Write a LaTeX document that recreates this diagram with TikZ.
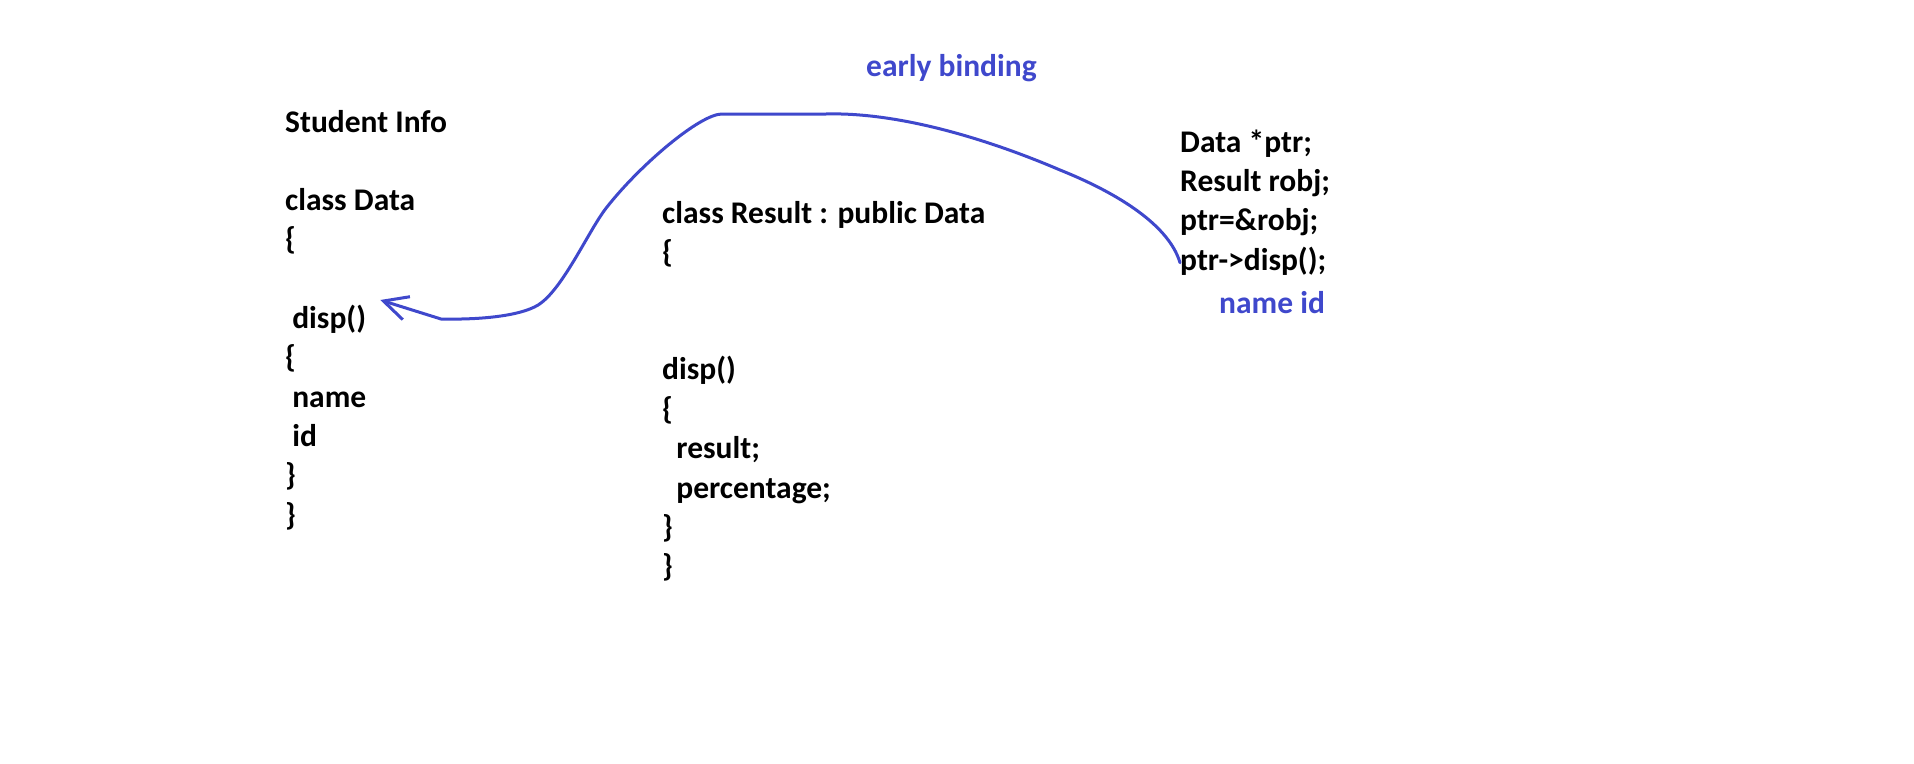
\documentclass[tikz,border=0pt]{standalone}
\usepackage{fontspec}
\setmainfont{Carlito}
\usetikzlibrary{arrows.meta,positioning}
\definecolor{ink}{RGB}{63,72,204}

\begin{document}
\begin{tikzpicture}[x=1pt, y=-1pt, node distance=10pt and 10pt,
   every node/.style={inner sep=0pt, text height=22pt, text depth=7pt, font=\bfseries\fontsize{31.5}{39}\selectfont},
   >={Straight Barb[length=24pt, width=24pt]}]
   \useasboundingbox[fill=white] (0,0) rectangle (1914,763);

   % class Data
   \node[anchor=base west] (l0) at (285,132) {Student Info};
   \node[] (l1) [below=of l0.south west, anchor=north west, yshift=-39pt] {class Data};
   \node[] (l2) [below=of l1.south west, anchor=north west] {\{};
   \node[] (l3) [below=of l2.south west, anchor=north west, yshift=-39pt] {\ disp()};
   \node[] (l4) [below=of l3.south west, anchor=north west] {\{};
   \node[] (l5) [below=of l4.south west, anchor=north west] {\ name};
   \node[] (l6) [below=of l5.south west, anchor=north west] {\ id};
   \node[] (l7) [below=of l6.south west, anchor=north west] {\}};
   \node[] (l8) [below=of l7.south west, anchor=north west] {\}};

   % class Result
   \node[anchor=base west] (m0) at (662,223) {class Result : public Data};
   \node[] (m1) [below=of m0.south west, anchor=north west] {\{};
   \node[] (m2) [below=of m1.south west, anchor=north west, yshift=-78pt] {disp()};
   \node[] (m3) [below=of m2.south west, anchor=north west] {\{};
   \node[] (m4) [below=of m3.south west, anchor=north west] {\ \ result;};
   \node[] (m5) [below=of m4.south west, anchor=north west] {\ \ percentage;};
   \node[] (m6) [below=of m5.south west, anchor=north west] {\}};
   \node[] (m7) [below=of m6.south west, anchor=north west] {\}};

   % main
   \node[anchor=base west] (r0) at (1180,152) {Data *ptr;};
   \node[] (r1) [below=of r0.south west, anchor=north west] {Result robj;};
   \node[] (r2) [below=of r1.south west, anchor=north west] {ptr=\&robj;};
   \node[] (r3) [below=of r2.south west, anchor=north west] {ptr->disp();};
   \node[ink] (ids) [below=of r3.south west, anchor=north west, xshift=39pt, yshift=-4pt] {name id};

   \node[ink, anchor=base west] (bind) at (866,76) {early binding};

   \draw[->, ink, line width=3pt, line cap=round, line join=round] (r3.west)
      .. controls (1168,222) and (1110,190) .. (1060,170)
      .. controls (990,140) and (900,112) .. (826,114)
      -- (722,114)
      .. controls (700,114) and (640,165) .. (607,207)
      .. controls (590,228) and (565,285) .. (541,303)
      .. controls (527,314) and (490,320) .. (441,319)
      -- ([xshift=14pt, yshift=6pt]l3.north east);

\end{tikzpicture}
\end{document}
